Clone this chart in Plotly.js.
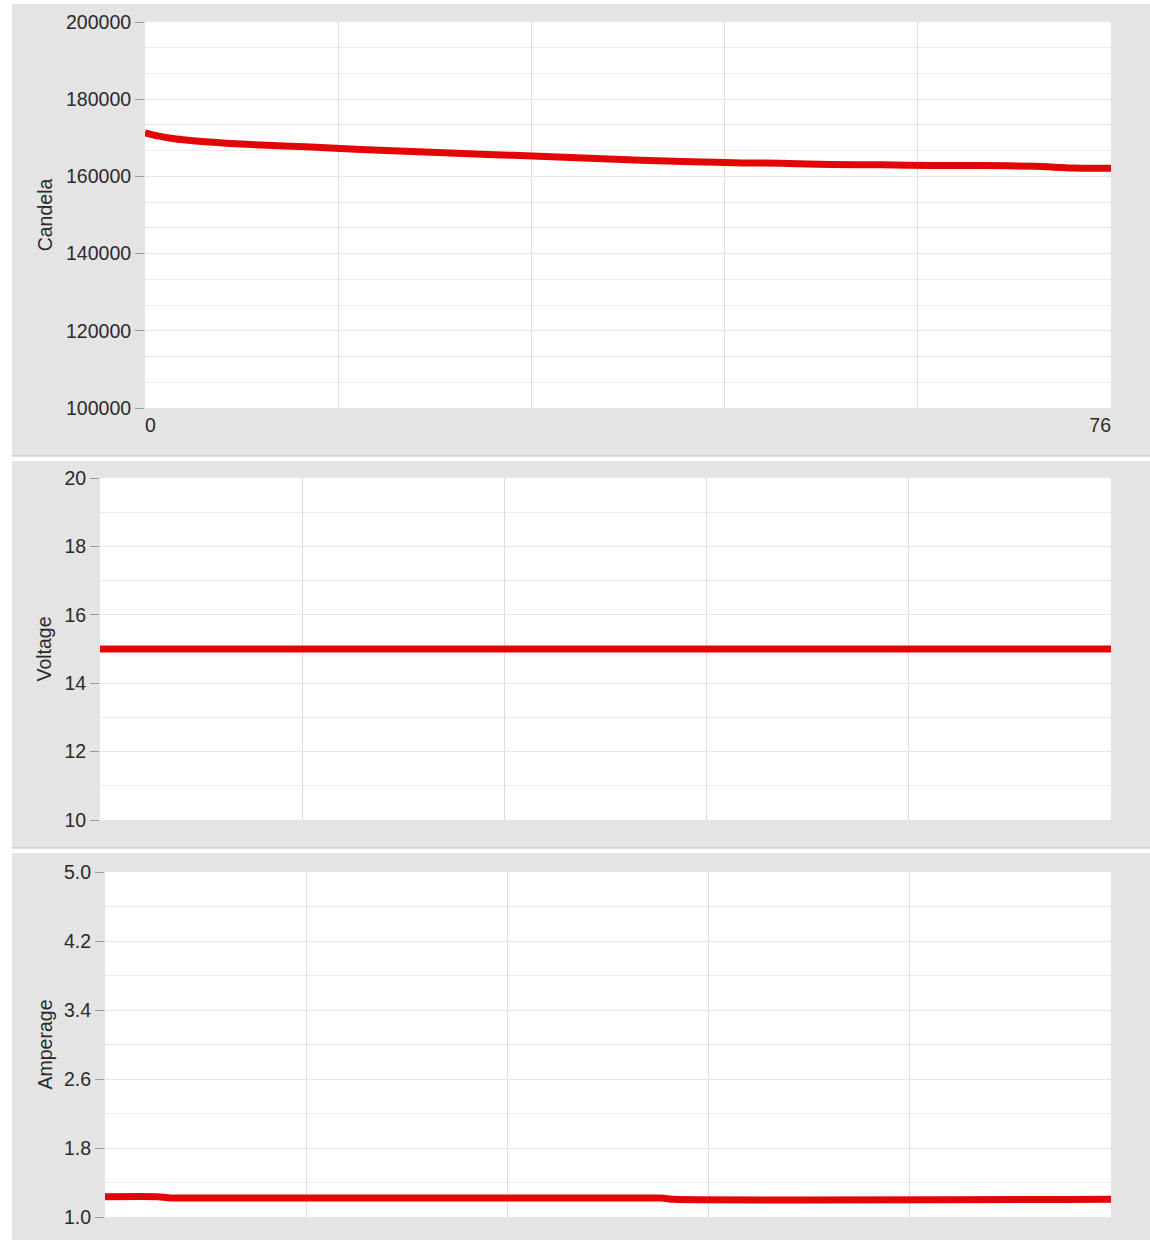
<!DOCTYPE html>
<html>
<head>
<meta charset="utf-8">
<script src="https://cdn.plot.ly/plotly-3.0.1.min.js"></script>
<style>html,body{margin:0;padding:0;background:#fff;}#chart{width:1150px;height:1243px;}</style>
</head>
<body>
<div id="chart"></div>
<script>
// ---- data ----
const candelaX = [0, 1, 2, 3, 5, 8, 11, 15, 19, 23, 27, 31, 35, 39, 43, 47, 50, 54, 58, 62, 66, 70, 73, 76];
const candelaY = [171300, 170500, 169900, 169500, 168900, 168300, 167900, 167300, 166700, 166200, 165700, 165200, 164700, 164200, 163800, 163500, 163400, 163100, 163000, 162800, 162800, 162600, 162200, 162100];
const voltageX = [0, 76];
const voltageY = [15.0, 15.0];
const ampX = [0, 4, 5, 42, 43, 76];
const ampY = [1.235, 1.235, 1.22, 1.22, 1.205, 1.205];
const xGridVals = [0, 15.2, 30.4, 45.6, 60.8, 76];
const xLabelStart = ['0', '', '', '', '', ''];
const xLabelEnd = ['76'];
const candelaTicks = [100000, 120000, 140000, 160000, 180000, 200000];
const voltageTicks = [10, 12, 14, 16, 18, 20];
const ampTicks = [1.0, 1.8, 2.6, 3.4, 4.2, 5.0];

const W = 1150, H = 1243;
const px = v => v / W;
const py = v => 1 - v / H;

const RED = 'rgb(226,6,6)';
const GRAY = '#e4e4e4';
const fontFam = '"Liberation Sans", Arial, sans-serif';
const tickFont = {family: fontFam, size: 19.5, color: '#2a2a2a'};
const titleFont = {family: fontFam, size: 19.5, color: '#2a2a2a'};

const traces = [
  {x: candelaX, y: candelaY, xaxis: 'x', yaxis: 'y', mode: 'lines', line: {color: RED, width: 7, shape: 'spline', smoothing: 0.8}, name: 'Candela'},
  {x: voltageX, y: voltageY, xaxis: 'x2', yaxis: 'y2', mode: 'lines', line: {color: RED, width: 7}, name: 'Voltage'},
  {x: ampX, y: ampY, xaxis: 'x3', yaxis: 'y3', mode: 'lines', line: {color: RED, width: 7, shape: 'spline', smoothing: 0.6}, name: 'Amperage'},
  // carrier so that the end-label axis is drawn
  {x: [76], y: [null], xaxis: 'x4', yaxis: 'y', mode: 'lines', showlegend: false, hoverinfo: 'skip'}
];

function xAxisBase(domain, anchor) {
  return {
    domain: domain, anchor: anchor, range: [0, 76], fixedrange: true,
    tickmode: 'array', tickvals: xGridVals, ticktext: ['', '', '', '', '', ''],
    showgrid: true, gridcolor: '#dcdcdc', gridwidth: 1,
    zeroline: false, showline: false, ticks: '', tickfont: tickFont
  };
}
function yAxisBase(domain, anchor, range, ticks, minorDtick, fmt, title, standoff) {
  return {
    domain: domain, anchor: anchor, range: range, fixedrange: true,
    tickmode: 'array', tickvals: ticks, tickformat: fmt,
    showgrid: true, gridcolor: '#e6e6e6', gridwidth: 1,
    minor: {tickmode: 'linear', tick0: range[0], dtick: minorDtick, showgrid: true, gridcolor: '#ececec', ticks: ''},
    zeroline: false, showline: false,
    ticks: 'outside', ticklen: 9, tickcolor: '#999', tickwidth: 1,
    tickfont: tickFont,
    title: {text: title, font: titleFont, standoff: standoff}
  };
}

const dom1x = [px(145), px(1111)], dom1y = [py(408), py(22)];
const dom2x = [px(100), px(1111)], dom2y = [py(820), py(478)];
const dom3x = [px(105), px(1111)], dom3y = [py(1217), py(872)];

const xa1 = xAxisBase(dom1x, 'y');
xa1.ticktext = xLabelStart;
xa1.ticklabelposition = 'outside right';
xa1.ticklabelstandoff = 3;

const layout = {
  width: W, height: H,
  margin: {l: 0, r: 0, t: 0, b: 0},
  paper_bgcolor: GRAY, plot_bgcolor: '#ffffff',
  showlegend: false,
  font: {family: fontFam, color: '#2a2a2a'},
  xaxis: xa1,
  xaxis4: {
    overlaying: 'x', anchor: 'y', range: [0, 76], fixedrange: true,
    tickmode: 'array', tickvals: [76], ticktext: xLabelEnd,
    ticklabelposition: 'outside left', ticklabelstandoff: 3, showgrid: false, zeroline: false,
    showline: false, ticks: '', tickfont: tickFont
  },
  yaxis: yAxisBase(dom1y, 'x', [100000, 200000], candelaTicks, 20000 / 3, 'd', 'Candela', 8),
  xaxis2: Object.assign(xAxisBase(dom2x, 'y2'), {showticklabels: false}),
  yaxis2: yAxisBase(dom2y, 'x2', [10, 20], voltageTicks, 1, 'd', 'Voltage', 7),
  xaxis3: Object.assign(xAxisBase(dom3x, 'y3'), {showticklabels: false}),
  yaxis3: yAxisBase(dom3y, 'x3', [1, 5], ampTicks, 0.4, '.1f', 'Amperage', 6),
  shapes: [
    // white page margins and separators between the three panels
    {type: 'rect', xref: 'paper', yref: 'paper', x0: 0, x1: 1, y0: py(4), y1: 1, fillcolor: '#fff', line: {width: 0}, layer: 'below'},
    {type: 'rect', xref: 'paper', yref: 'paper', x0: 0, x1: px(12), y0: 0, y1: 1, fillcolor: '#fff', line: {width: 0}, layer: 'below'},
    {type: 'rect', xref: 'paper', yref: 'paper', x0: 0, x1: 1, y0: py(461), y1: py(456), fillcolor: '#fff', line: {width: 0}, layer: 'below'},
    {type: 'rect', xref: 'paper', yref: 'paper', x0: 0, x1: 1, y0: py(853), y1: py(848), fillcolor: '#fff', line: {width: 0}, layer: 'below'},
    {type: 'rect', xref: 'paper', yref: 'paper', x0: 0, x1: 1, y0: 0, y1: py(1240), fillcolor: '#fff', line: {width: 0}, layer: 'below'},
    {type: 'line', xref: 'paper', yref: 'paper', x0: px(12), x1: 1, y0: py(456), y1: py(456), line: {color: '#cfcfcf', width: 1.5}, layer: 'below'},
    {type: 'line', xref: 'paper', yref: 'paper', x0: px(12), x1: 1, y0: py(848), y1: py(848), line: {color: '#cfcfcf', width: 1.5}, layer: 'below'}
  ]
};

Plotly.newPlot('chart', traces, layout, {displayModeBar: false, staticPlot: true});
</script>
</body>
</html>
